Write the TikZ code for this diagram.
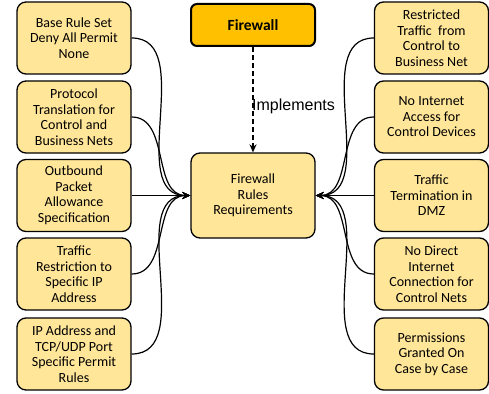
\documentclass[tikz,border=0pt]{standalone}
\usepackage{fontspec}
\setmainfont{Carlito}
\newfontfamily\arialfont{Liberation Sans}
\usetikzlibrary{arrows.meta}
\definecolor{boxfill}{RGB}{255,230,153}
\definecolor{fwfill}{RGB}{255,192,0}
\begin{document}
\begin{tikzpicture}[x=1pt,y=-1pt,
  rulebox/.style={draw=black,line width=1.3pt,fill=boxfill,rounded corners=9pt,
    minimum width=114pt,minimum height=72pt,align=center,inner sep=1pt,
    font=\fontsize{14}{15.5}\selectfont},
  fwbox/.style={draw=black,line width=2pt,fill=fwfill,rounded corners=6pt,
    minimum width=124pt,minimum height=42pt,font=\fontsize{15.5}{18}\selectfont\bfseries},
  centerbox/.style={rulebox,minimum width=124pt,minimum height=85pt},
  conn/.style={line width=1.2pt,-{Stealth[length=8pt,width=7pt]}}
]
\useasboundingbox (0,0) rectangle (489,393);
\node[fwbox] (fw) at (253,25) {Firewall};
\node[centerbox] (req) at (253,195.5) {Firewall\\Rules\\Requirements};
\node[rulebox] (l1) at (74,38) {Base Rule Set\\Deny All Permit\\None};
\node[rulebox] (l2) at (74,117) {Protocol\\Translation for\\Control and\\Business Nets};
\node[rulebox] (l3) at (74,195.5) {Outbound\\Packet\\Allowance\\Specification};
\node[rulebox] (l4) at (74,274) {Traffic\\Restriction to\\Specific IP\\Address};
\node[rulebox] (l5) at (74,354) {IP Address and\\TCP/UDP Port\\Specific Permit\\Rules};
\node[rulebox] (r1) at (431.5,38) {Restricted\\Traffic\ \ from\\Control to\\Business Net};
\node[rulebox] (r2) at (431.5,117) {No Internet\\Access for\\Control Devices};
\node[rulebox] (r3) at (431.5,195.5) {Traffic\\Termination in\\DMZ};
\node[rulebox] (r4) at (431.5,274) {No Direct\\Internet\\Connection for\\Control Nets};
\node[rulebox] (r5) at (431.5,354) {Permissions\\Granted On\\Case by Case};
\draw[line width=1.3pt,dash pattern=on 5pt off 3pt,-{Stealth[length=8pt,width=7pt]}] (fw.south) -- (req.north);
\node[anchor=west,inner sep=0pt,font=\arialfont\fontsize{16}{19}\selectfont] (impl) at (252,106) {Implements};
\foreach \n in {l1,l2,l3,l4,l5}
  \draw[conn] (\n.east) to[out=0,in=180] (req.west);
\foreach \n in {r1,r2,r3,r4,r5}
  \draw[conn] (\n.west) to[out=180,in=0] (req.east);
\end{tikzpicture}
\end{document}
